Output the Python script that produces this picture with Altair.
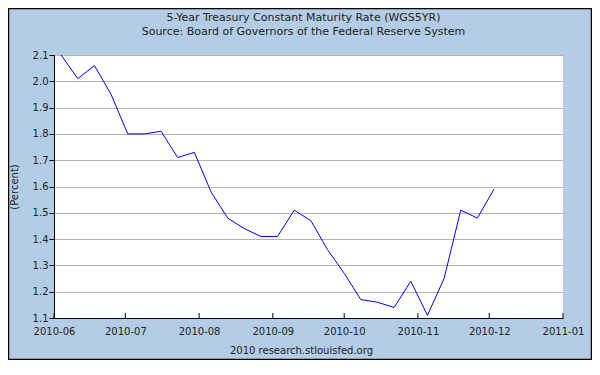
import altair as alt
import pandas as pd

dates = ["2010-06-04", "2010-06-11", "2010-06-18", "2010-06-25",
         "2010-07-02", "2010-07-09", "2010-07-16", "2010-07-23", "2010-07-30",
         "2010-08-06", "2010-08-13", "2010-08-20", "2010-08-27",
         "2010-09-03", "2010-09-10", "2010-09-17", "2010-09-24",
         "2010-10-01", "2010-10-08", "2010-10-15", "2010-10-22", "2010-10-29",
         "2010-11-05", "2010-11-12", "2010-11-19", "2010-11-26",
         "2010-12-03"]
rates = [2.10, 2.01, 2.06, 1.95,
         1.80, 1.80, 1.81, 1.71, 1.73,
         1.58, 1.48, 1.44, 1.41,
         1.41, 1.51, 1.47, 1.36,
         1.27, 1.17, 1.16, 1.14, 1.24,
         1.11, 1.25, 1.51, 1.48,
         1.59]
month_ticks = ["2010-06-01", "2010-07-01", "2010-08-01", "2010-09-01",
               "2010-10-01", "2010-11-01", "2010-12-01", "2011-01-01"]
y_ticks = [1.1, 1.2, 1.3, 1.4, 1.5, 1.6, 1.7, 1.8, 1.9, 2.0, 2.1]

df = pd.DataFrame({"date": dates, "rate": rates})
ticks_df = pd.DataFrame({"date": month_ticks})

FONT = "DejaVu Sans"
W, H = 509, 263

xscale = alt.Scale(type="utc", domain=["2010-06-01", "2011-01-01"])

line = alt.Chart(df).mark_line(color="#0000ff", strokeWidth=1).encode(
    x=alt.X("date:T", scale=xscale,
            axis=alt.Axis(values=[alt.DateTime(year=int(d[:4]), month=int(d[5:7]), date=1, utc=True) for d in month_ticks],
                          labelExpr="utcFormat(datum.value, '%Y-%m')",
                          ticks=False, grid=False, labelFlush=False,
                          domainColor="black", labelPadding=8,
                          labelFont=FONT, labelFontSize=10, labelColor="#222",
                          title="2010 research.stlouisfed.org",
                          titleFont=FONT, titleFontSize=10, titleFontWeight="normal",
                          titleColor="#222", titleX=247, titleY=35,
                          titleBaseline="alphabetic")),
    y=alt.Y("rate:Q", scale=alt.Scale(domain=[1.1, 2.1], nice=False, zero=False),
            axis=alt.Axis(values=y_ticks, format=".1f", tickSize=5, tickColor="black",
                          domainColor="black", gridColor="#b4b4b4", grid=True,
                          labelPadding=1, labelFont=FONT, labelFontSize=10,
                          labelColor="#222", title="(Percent)", titleFont=FONT,
                          titleFontSize=10, titleFontWeight="normal", titleColor="#222",
                          titleX=-40, titleY=H / 2, titleAngle=-90,
                          titleBaseline="middle", titleAlign="center")),
)

xticks = alt.Chart(ticks_df).mark_rule(color="black", strokeWidth=1).encode(
    x=alt.X("date:T", scale=xscale),
    y=alt.value(H - 5),
    y2=alt.value(H),
)

frame = alt.Chart(ticks_df.head(1)).mark_rect(filled=False, stroke="black", strokeWidth=1.5).encode(
    x=alt.value(-45.5), x2=alt.value(W + 28.5),
    y=alt.value(-46.5), y2=alt.value(H + 41.5),
)

chart = alt.layer(line, xticks, frame).properties(
    width=W, height=H,
    padding={"left": 46, "top": 47, "right": 29, "bottom": 42},
    autosize=alt.AutoSizeParams(type="none"),
    title=alt.TitleParams(
        text=["5-Year Treasury Constant Maturity Rate (WGS5YR)",
              "Source: Board of Governors of the Federal Reserve System"],
        font=FONT, fontSize=11, fontWeight="normal", color="#222",
        anchor="middle", offset=-29, lineHeight=14, dx=-5),
).configure(background="#b4cde6").configure_view(fill="white", stroke="#c8c8c8")

chart.save("out.html", embed_options={"renderer": "svg", "actions": False})
